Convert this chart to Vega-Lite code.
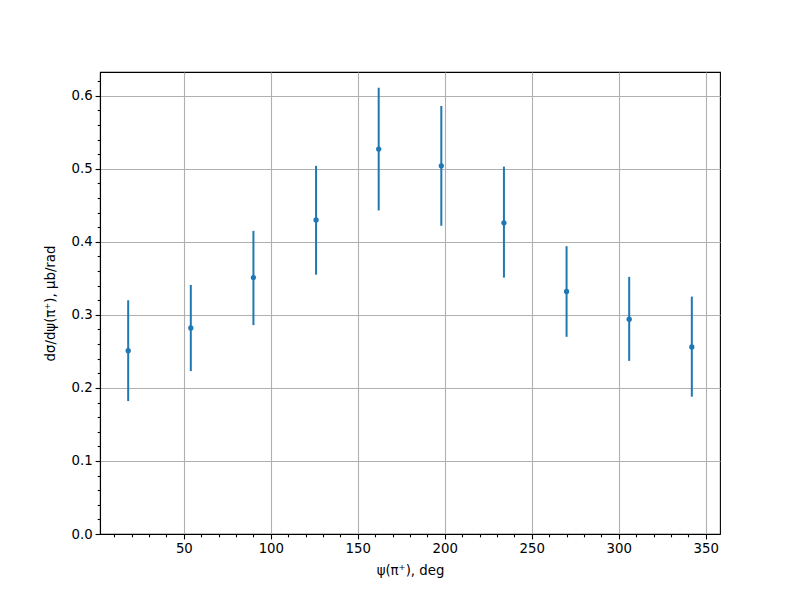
{
  "$schema": "https://vega.github.io/schema/vega-lite/v6.json",
  "width": 620,
  "height": 462,
  "autosize": "none",
  "padding": {"left": 100, "top": 72, "right": 80, "bottom": 66},
  "background": "white",
  "config": {
    "view": {"stroke": "black", "strokeWidth": 1.1},
    "axis": {
      "labelFont": "DejaVu Sans",
      "labelFontSize": 13.3,
      "labelColor": "black",
      "titleFont": "DejaVu Sans",
      "titleFontSize": 13.3,
      "titleFontWeight": "normal",
      "titleColor": "black",
      "tickColor": "black",
      "domainColor": "black",
      "domainWidth": 1.1,
      "tickWidth": 1.1,
      "tickSize": 4.9,
      "labelPadding": 3,
      "gridColor": "#b0b0b0",
      "gridWidth": 1.1
    }
  },
  "data": {
    "values": [
      {"psi": 18, "v": 0.251, "lo": 0.182, "hi": 0.320},
      {"psi": 54, "v": 0.282, "lo": 0.223, "hi": 0.341},
      {"psi": 90, "v": 0.351, "lo": 0.286, "hi": 0.415},
      {"psi": 126, "v": 0.430, "lo": 0.355, "hi": 0.504},
      {"psi": 162, "v": 0.527, "lo": 0.443, "hi": 0.611},
      {"psi": 198, "v": 0.504, "lo": 0.422, "hi": 0.586},
      {"psi": 234, "v": 0.426, "lo": 0.351, "hi": 0.503},
      {"psi": 270, "v": 0.332, "lo": 0.270, "hi": 0.394},
      {"psi": 306, "v": 0.294, "lo": 0.237, "hi": 0.352},
      {"psi": 342, "v": 0.256, "lo": 0.188, "hi": 0.325}
    ]
  },
  "resolve": {"axis": {"x": "independent", "y": "independent"}},
  "layer": [
    {
      "mark": {"type": "rule", "color": "#1f77b4", "strokeWidth": 2},
      "encoding": {
        "x": {
          "field": "psi", "type": "quantitative",
          "scale": {"domain": [1.8, 358.2], "nice": false, "zero": false},
          "axis": {"values": [50, 100, 150, 200, 250, 300, 350], "format": "d", "grid": true, "title": "ψ(π⁺), deg", "orient": "bottom", "titlePadding": 8}
        },
        "y": {
          "field": "lo", "type": "quantitative",
          "scale": {"domain": [0, 0.6325], "nice": false},
          "axis": {"values": [0, 0.1, 0.2, 0.3, 0.4, 0.5, 0.6], "format": ".1f", "grid": true, "title": "dσ/dψ(π⁺), μb/rad", "orient": "left", "titlePadding": 13}
        },
        "y2": {"field": "hi"}
      }
    },
    {
      "mark": {"type": "point", "filled": true, "opacity": 1, "color": "#1f77b4", "size": 28},
      "encoding": {
        "x": {
          "field": "psi", "type": "quantitative",
          "axis": {"values": [10,20,30,40,60,70,80,90,110,120,130,140,160,170,180,190,210,220,230,240,260,270,280,290,310,320,330,340], "labels": false, "grid": false, "domain": false, "tickSize": 2.8, "title": null, "orient": "bottom"}
        },
        "y": {
          "field": "v", "type": "quantitative",
          "axis": {"values": [0.02,0.04,0.06,0.08,0.12,0.14,0.16,0.18,0.22,0.24,0.26,0.28,0.32,0.34,0.36,0.38,0.42,0.44,0.46,0.48,0.52,0.54,0.56,0.58,0.62], "labels": false, "grid": false, "domain": false, "tickSize": 2.8, "title": null, "orient": "left"}
        }
      }
    }
  ]
}
